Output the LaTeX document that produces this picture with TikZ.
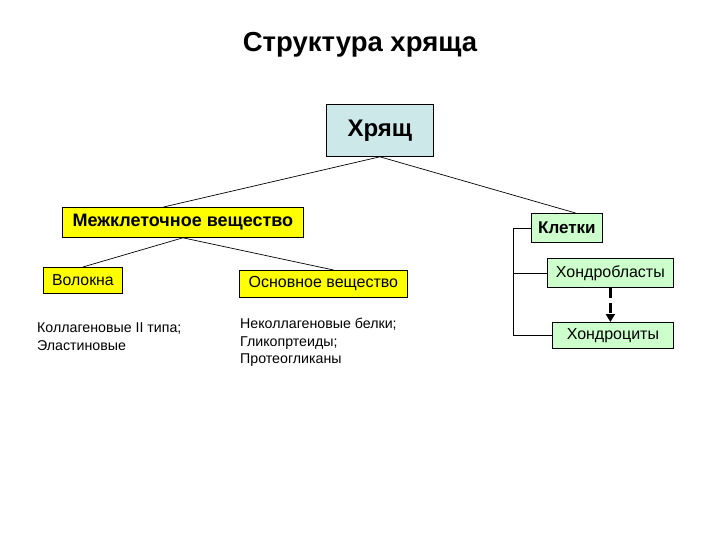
\documentclass[tikz,border=0pt]{standalone}
\usepackage{fontspec}
\setmainfont{Liberation Sans}
\usetikzlibrary{calc,arrows.meta}

\definecolor{hrfill}{RGB}{204,232,232}
\definecolor{mkfill}{RGB}{255,255,0}
\definecolor{klfill}{RGB}{204,255,204}

\begin{document}
\begin{tikzpicture}[x=1pt,y=-1pt,
  box/.style={draw,line width=0.8pt,inner sep=0pt,anchor=north west},
  yelbox/.style={box,fill=mkfill},
  grnbox/.style={box,fill=klfill},
  note/.style={anchor=north west,inner sep=0pt,align=left,font=\fontsize{14.2}{17.5}\selectfont},
  link/.style={line width=0.7pt}]
\useasboundingbox (0,0) rectangle (720,540);

% title
\node[font=\fontsize{27.5}{32}\selectfont\bfseries] (title) at (360,45) {Структура хряща};

% root
\node[box,fill=hrfill,minimum width=107pt,minimum height=52pt,font=\fontsize{24}{28}\selectfont\bfseries] (hr) at (326,104) {Хрящ};

% intercellular substance
\node[yelbox,minimum width=241pt,minimum height=30pt,font=\fontsize{18}{22}\selectfont\bfseries] (mk) at (62,207) {Межклеточное вещество};
\node[yelbox,minimum width=79pt,minimum height=26pt,font=\fontsize{15.8}{19}\selectfont] (vol) at (43,267) {Волокна};
\node[yelbox,minimum width=168pt,minimum height=27pt,font=\fontsize{16}{19}\selectfont] (osn) at (239,270) {Основное вещество};
\node[note] (kol) at (37,323) {Коллагеновые II типа;\\Эластиновые};
\node[note] (nek) at (240,318) {Неколлагеновые белки;\\Гликопртеиды;\\Протеогликаны};

% cells
\node[grnbox,minimum width=71pt,minimum height=29pt,font=\fontsize{17}{21}\selectfont\bfseries] (kl) at (531,213) {Клетки};
\node[grnbox,minimum width=126pt,minimum height=29pt,font=\fontsize{16}{19}\selectfont] (hb) at (547,258) {Хондробласты};
\node[grnbox,minimum width=121pt,minimum height=26pt,font=\fontsize{16}{19}\selectfont] (hc) at (552,322) {Хондроциты};
\coordinate (brk) at (513,0);

% connectors
\draw[link] (hr.south) -- ($(mk.north west)!0.42!(mk.north east)$);
\draw[link] (hr.south) -- ($(kl.north west)!0.62!(kl.north east)$);
\draw[link] (mk.south) -- (vol.north);
\draw[link] (mk.south) -- ($(osn.north west)!0.56!(osn.north east)$);
\draw[link] (kl.west) -- (kl.west -| brk) |- (hc.west);
\draw[link] (hb.west) -- (hb.west -| brk);
\draw[line width=2.5pt,dash pattern=on 10pt off 5pt,-{Triangle[width=9pt,length=8pt]}] (hb.south) -- (hb.south |- hc.north);
\end{tikzpicture}
\end{document}
